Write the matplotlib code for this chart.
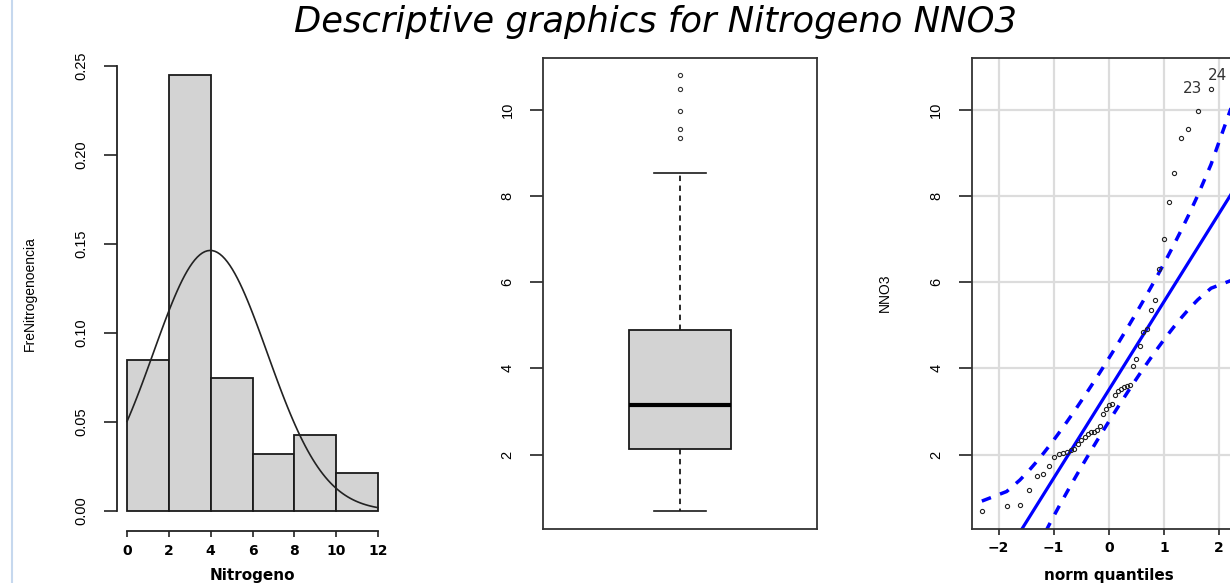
import numpy as np
import matplotlib.pyplot as plt
from matplotlib.lines import Line2D
from statistics import NormalDist

# NNO3 values (sorted)
nno3 = [0.69, 0.81, 0.82, 1.19, 1.51, 1.56, 1.74, 1.95,
        2.02, 2.04, 2.07, 2.10, 2.14, 2.25, 2.33, 2.40, 2.47, 2.52, 2.53, 2.56,
        2.67, 2.93, 3.05, 3.16, 3.18, 3.39, 3.47, 3.52, 3.56, 3.60, 3.62,
        4.05, 4.21, 4.52, 4.84, 4.92, 5.35, 5.58,
        6.30, 7.00, 7.85, 8.53, 9.34, 9.55, 9.96, 10.48, 10.79]
bin_edges = [0, 2, 4, 6, 8, 10, 12]
hist_yticks = [0.00, 0.05, 0.10, 0.15, 0.20, 0.25]
value_ticks = [2, 4, 6, 8, 10]
quant_ticks = [-2, -1, 0, 1, 2]
top_ids = ["23", "24"]   # observation numbers of the two largest values

NARROW = ['Liberation Sans Narrow', 'Liberation Sans', 'DejaVu Sans']
WIDE = 'DejaVu Sans'
W, H = 1230, 583


def fpos(x0, y0, x1, y1):
    # pixel box (top-left origin) -> figure fraction
    return [x0 / W, 1 - y1 / H, (x1 - x0) / W, (y1 - y0) / H]


def ext(lo, hi):
    r = hi - lo
    return lo - 0.04 * r, hi + 0.04 * r


def style_yticks(ax, ticks, labels=None):
    ax.set_yticks(ticks, labels=labels if labels else [str(t) for t in ticks])
    ax.tick_params(axis='y', length=9.4, width=1.2, pad=11, color='#222')
    for t in ax.get_yticklabels():
        t.set_rotation(90)
        t.set_va('center')
        t.set_family(NARROW)
        t.set_fontsize(10.5)


def style_xticks(ax, ticks):
    ax.set_xticks(ticks)
    ax.tick_params(axis='x', length=4.3, width=1.2, pad=5, color='#222')
    for t in ax.get_xticklabels():
        t.set_family(WIDE)
        t.set_fontweight('bold')
        t.set_fontsize(10)


fig = plt.figure(figsize=(12.3, 5.83), dpi=100)
top, bot = 58, 528.5
vals = np.array(nno3)
vlim = ext(vals.min(), vals.max())

# ---- histogram ----
ax1 = fig.add_axes(fpos(117, top, 388, bot))
dens, _, _ = ax1.hist(vals, bins=bin_edges, density=True, color='#d3d3d3',
                      edgecolor='#1a1a1a', linewidth=1.3)
mu, sd = vals.mean(), vals.std(ddof=1)
xs = np.linspace(0, 12, 101)
ax1.plot(xs, np.exp(-0.5 * ((xs - mu) / sd) ** 2) / (sd * np.sqrt(2 * np.pi)),
         color='#222', lw=1.2)
ax1.set_xlim(*ext(bin_edges[0], bin_edges[-1]))
ax1.set_ylim(-0.04 * dens.max(), 1.04 * dens.max())
for s in ['top', 'right']:
    ax1.spines[s].set_visible(False)
ax1.spines['left'].set_bounds(0, 0.25)
ax1.spines['bottom'].set_bounds(0, 12)
ax1.spines['bottom'].set_position(('outward', 2))
for s in ['left', 'bottom']:
    ax1.spines[s].set_linewidth(1.3)
    ax1.spines[s].set_color('#222')
style_yticks(ax1, hist_yticks, [f'{v:.2f}' for v in hist_yticks])
style_xticks(ax1, bin_edges)
ax1.set_xlabel('Nitrogeno', family=WIDE, fontweight='bold', fontsize=11)
ax1.xaxis.set_label_coords(0.5, -0.10)
ax1.xaxis.label.set_va('center')
ax1.set_ylabel('FreNitrogenoencia', family=NARROW, fontsize=10)
ax1.yaxis.set_label_coords(-0.32, 0.5)
ax1.yaxis.label.set_va('center')

# ---- boxplot ----
ax2 = fig.add_axes(fpos(543, top, 817, bot))
ax2.boxplot(vals, positions=[1], widths=0.372, capwidths=0.19, patch_artist=True,
            boxprops=dict(facecolor='#d3d3d3', edgecolor='#1a1a1a', lw=1.3),
            medianprops=dict(color='black', lw=3),
            whiskerprops=dict(color='#1a1a1a', lw=1.3, ls=(0, (3, 2.5))),
            capprops=dict(color='#1a1a1a', lw=1.2),
            flierprops=dict(marker='o', ms=3, mfc='none', mec='#333', mew=0.8))
ax2.set_xlim(0.5, 1.5)
ax2.set_ylim(*vlim)
ax2.set_xticks([])
for s in ax2.spines.values():
    s.set_linewidth(1.3)
    s.set_color('#333')
style_yticks(ax2, value_ticks)

# ---- normal QQ plot ----
n = len(vals)
nd = NormalDist()
p = (np.arange(1, n + 1) - 0.5) / n
z = np.array([nd.inv_cdf(pi) for pi in p])
q1, q3 = np.percentile(vals, [25, 75])
slope = (q3 - q1) / (nd.inv_cdf(0.75) - nd.inv_cdf(0.25))
icpt = q1 - slope * nd.inv_cdf(0.25)
fit = icpt + slope * z
se = slope / np.array([nd.pdf(v) for v in z]) * np.sqrt(p * (1 - p) / n)

ax3 = fig.add_axes(fpos(971.7, top, 1246, bot))
ax3.set_xlim(*ext(z.min(), z.max()))
ax3.set_ylim(*vlim)
ax3.grid(True, color='#dcdcdc', lw=1.6)
ax3.set_axisbelow(True)
ax3.axline((0, icpt), slope=slope, color='blue', lw=2.3)
ax3.plot(z, fit + 1.96 * se, color='blue', lw=2.5, ls=(0, (2.8, 2.8)))
ax3.plot(z, fit - 1.96 * se, color='blue', lw=2.5, ls=(0, (2.8, 2.8)))
ax3.plot(z, vals, 'o', ms=3, mfc='none', mec='#222', mew=0.8)
for k, lab in enumerate(top_ids):
    i = n - 2 + k
    ax3.annotate(lab, (z[i], vals[i]), xytext=(-6.5, 0), textcoords='offset points',
                 ha='right', va='center', family=WIDE, fontsize=11, color='#333')
for s in ax3.spines.values():
    s.set_linewidth(1.3)
    s.set_color('#333')
style_yticks(ax3, value_ticks)
style_xticks(ax3, quant_ticks)
ax3.set_xlabel('norm quantiles', family=WIDE, fontweight='bold', fontsize=11)
ax3.xaxis.set_label_coords(0.5, -0.10)
ax3.xaxis.label.set_va('center')
ax3.set_ylabel('NNO3', family=NARROW, fontsize=10)
ax3.yaxis.set_label_coords((885 - 971.7) / (1246 - 971.7), 0.5)
ax3.yaxis.label.set_va('center')

fig.text(655 / W, 1 - 22 / H, 'Descriptive graphics for Nitrogeno NNO3',
         family=WIDE, style='italic', fontsize=25.5, ha='center', va='center')
fig.add_artist(Line2D([12 / W, 12 / W], [0, 1], color='#c6d8ee', lw=1.5,
                      transform=fig.transFigure))

fig.savefig('out.png', dpi=100)
